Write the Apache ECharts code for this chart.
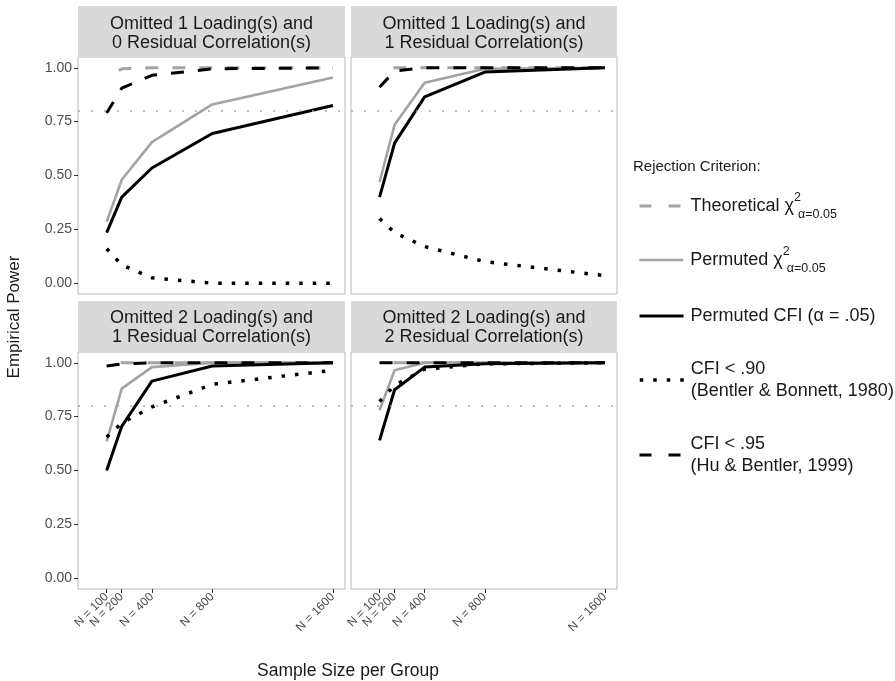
<!DOCTYPE html>
<html>
<head>
<meta charset="utf-8">
<script src="https://cdn.jsdelivr.net/npm/echarts@6/dist/echarts.min.js"></script>
<style>html,body{margin:0;padding:0;background:#fff;}#c{width:895px;height:681px;}</style>
</head>
<body>
<div id="c"></div>
<script>
// ---- data ----
const sampleSizes = [100, 200, 400, 800, 1600];
const yTicks = [0, 0.25, 0.5, 0.75, 1];
const powerReference = 0.8;
const panelTitles = [
  'Omitted 1 Loading(s) and\n0 Residual Correlation(s)',
  'Omitted 1 Loading(s) and\n1 Residual Correlation(s)',
  'Omitted 2 Loading(s) and\n1 Residual Correlation(s)',
  'Omitted 2 Loading(s) and\n2 Residual Correlation(s)'
];
const seriesNames = ['theo', 'permChi', 'permCfi', 'cfi90', 'cfi95'];

// panel 1: 1 loading, 0 residual
const p1Theo    = [0.955, 0.995, 1, 1, 1];
const p1PermChi = [0.285, 0.48, 0.655, 0.83, 0.955];
const p1PermCfi = [0.235, 0.40, 0.535, 0.695, 0.825];
const p1Cfi90   = [0.16, 0.085, 0.025, 0.0, 0.0];
const p1Cfi95   = [0.79, 0.905, 0.965, 0.995, 1];
// panel 2: 1 loading, 1 residual
const p2Theo    = [0.99, 1, 1, 1, 1];
const p2PermChi = [0.47, 0.735, 0.93, 0.995, 1];
const p2PermCfi = [0.40, 0.65, 0.865, 0.98, 1];
const p2Cfi90   = [0.30, 0.235, 0.17, 0.10, 0.035];
const p2Cfi95   = [0.91, 0.985, 1, 1, 1];
// panel 3: 2 loadings, 1 residual
const p3Theo    = [0.995, 1, 1, 1, 1];
const p3PermChi = [0.635, 0.88, 0.98, 1, 1];
const p3PermCfi = [0.50, 0.705, 0.915, 0.985, 1];
const p3Cfi90   = [0.655, 0.72, 0.795, 0.90, 0.965];
const p3Cfi95   = [0.985, 0.995, 1, 1, 1];
// panel 4: 2 loadings, 2 residual
const p4Theo    = [1, 1, 1, 1, 1];
const p4PermChi = [0.78, 0.965, 1, 1, 1];
const p4PermCfi = [0.64, 0.875, 0.98, 0.995, 1];
const p4Cfi90   = [0.82, 0.895, 0.97, 0.995, 1];
const p4Cfi95   = [1, 1, 1, 1, 1];

const panelData = [
  [p1Theo, p1PermChi, p1PermCfi, p1Cfi90, p1Cfi95],
  [p2Theo, p2PermChi, p2PermCfi, p2Cfi90, p2Cfi95],
  [p3Theo, p3PermChi, p3PermCfi, p3Cfi90, p3Cfi95],
  [p4Theo, p4PermChi, p4PermCfi, p4Cfi90, p4Cfi95]
];

// ---- styles / layout ----
const FONT = '"Liberation Sans", Arial, sans-serif';
const GRAY = '#a3a3a3';
const styles = {
  theo:    {color: GRAY, width: 3, type: [13, 14], dashOffset: 13, legendType: [12, 17]},
  permChi: {color: GRAY, width: 2.6, type: 'solid'},
  permCfi: {color: '#000', width: 3, type: 'solid'},
  cfi90:   {color: '#000', width: 3.5, type: [3.5, 10]},
  cfi95:   {color: '#000', width: 3, type: [13, 14], legendType: [12, 17]}
};
const grids = [
  {left: 78, top: 57, width: 267, height: 237},
  {left: 351, top: 57, width: 266, height: 237},
  {left: 78, top: 352, width: 267, height: 237},
  {left: 351, top: 352, width: 266, height: 237}
];
const strips = [
  {x: 78, y: 6, w: 267, h: 51, dy: 2.5},
  {x: 351, y: 6, w: 266, h: 51, dy: 2.5},
  {x: 78, y: 301, w: 267, h: 51, dy: 1},
  {x: 351, y: 301, w: 266, h: 51, dy: 1}
];

// labels split over two axes so close rotated labels are both kept
const mainLabelValues = sampleSizes.filter((_, j) => j !== 1);
const extraLabelValues = [sampleSizes[1]];

const xLabelStyle = {rotate: 45, margin: 6, hideOverlap: false,
  formatter: v => 'N = ' + v, fontSize: 12, color: '#4d4d4d', fontFamily: FONT};

const xAxes = [], yAxes = [], series = [];
grids.forEach((g, i) => {
  const bottom = i >= 2, leftCol = i % 2 === 0;
  xAxes.push({
    type: 'value', gridIndex: i, min: -90, max: 1680, position: 'bottom',
    splitLine: {show: false}, axisLine: {show: false, onZero: false},
    axisTick: {show: bottom, customValues: sampleSizes, length: 4, lineStyle: {color: '#333'}},
    axisLabel: Object.assign({show: bottom, customValues: mainLabelValues}, xLabelStyle)
  });
  yAxes.push({
    type: 'value', gridIndex: i, min: -0.05, max: 1.05,
    splitLine: {show: false}, axisLine: {show: false, onZero: false},
    axisTick: {show: leftCol, customValues: yTicks, length: 4, lineStyle: {color: '#333'}},
    axisLabel: {show: leftCol, customValues: yTicks, margin: 6, hideOverlap: false,
      formatter: v => v.toFixed(2), fontSize: 14, color: '#4d4d4d', fontFamily: FONT}
  });
  seriesNames.forEach((nm, k) => {
    const st = styles[nm];
    const s = {
      name: nm, type: 'line', xAxisIndex: i, yAxisIndex: i,
      symbol: 'none', silent: true, z: 2 + k,
      data: sampleSizes.map((n, j) => [n, panelData[i][k][j]]),
      lineStyle: {color: st.color, width: st.width, type: st.type, dashOffset: st.dashOffset || 0, cap: 'butt'},
      itemStyle: {color: st.color}
    };
    if (k === 0) {
      s.markLine = {silent: true, symbol: 'none', label: {show: false},
        lineStyle: {type: [2, 11], color: '#a8a8a8', width: 1.6},
        data: [{yAxis: powerReference}]};
    }
    series.push(s);
  });
});
[2, 3].forEach(i => {
  xAxes.push({
    type: 'value', gridIndex: i, min: -90, max: 1680, position: 'bottom', offset: 0,
    splitLine: {show: false}, axisLine: {show: false, onZero: false},
    axisTick: {show: false},
    axisLabel: Object.assign({show: true, customValues: extraLabelValues}, xLabelStyle)
  });
});

const rich = {
  t: {fontSize: 18, color: '#1a1a1a', fontFamily: FONT, lineHeight: 22},
  sup: {fontSize: 12.5, color: '#1a1a1a', fontFamily: FONT, verticalAlign: 'top', width: 4, lineHeight: 30},
  sub: {fontSize: 12.5, color: '#1a1a1a', fontFamily: FONT, verticalAlign: 'bottom', lineHeight: 30}
};
const legendLabels = {
  theo: '{t|Theoretical χ}{sup|2}{sub|α=0.05}',
  permChi: '{t|Permuted χ}{sup|2}{sub|α=0.05}',
  permCfi: '{t|Permuted CFI (α = .05)}',
  cfi90: '{t|CFI < .90}\n{t|(Bentler & Bonnett, 1980)}',
  cfi95: '{t|CFI < .95}\n{t|(Hu & Bentler, 1999)}'
};
const legendTops = [191, 245, 307, 360, 435];
const legends = seriesNames.map((nm, k) => ({
  data: [nm], left: 638, top: legendTops[k], orient: 'vertical', padding: 0,
  itemWidth: 44, itemHeight: 14, itemGap: 0, selectedMode: false,
  formatter: n => legendLabels[n],
  textStyle: {rich: rich, fontSize: 18, color: '#1a1a1a', fontFamily: FONT, padding: [0, 0, 0, 2]},
  itemStyle: {opacity: 0},
  lineStyle: {width: styles[nm].width, type: styles[nm].legendType || styles[nm].type, dashOffset: 0}
}));

const graphics = [];
strips.forEach((s, i) => {
  graphics.push({type: 'rect', shape: {x: s.x, y: s.y, width: s.w, height: s.h}, style: {fill: '#d9d9d9'}, silent: true});
  graphics.push({type: 'text', x: s.x + s.w / 2, y: s.y + s.h / 2 + s.dy, silent: true,
    style: {text: panelTitles[i], fill: '#1a1a1a', font: '18px ' + FONT, align: 'center', verticalAlign: 'middle', lineHeight: 19}});
});
graphics.push({type: 'text', x: 14, y: 317, rotation: Math.PI / 2, silent: true,
  style: {text: 'Empirical Power', fill: '#1a1a1a', font: '17px ' + FONT, align: 'center', verticalAlign: 'middle'}});
graphics.push({type: 'text', x: 348, y: 671, silent: true,
  style: {text: 'Sample Size per Group', fill: '#1a1a1a', font: '17.5px ' + FONT, align: 'center', verticalAlign: 'middle'}});
graphics.push({type: 'text', x: 633, y: 167, silent: true,
  style: {text: 'Rejection Criterion:', fill: '#1a1a1a', font: '15px ' + FONT, align: 'left', verticalAlign: 'middle'}});

const chart = echarts.init(document.getElementById('c'), null, {renderer: 'canvas'});
chart.setOption({
  animation: false,
  backgroundColor: '#fff',
  grid: grids.map(g => Object.assign({show: true, borderColor: '#b8b8b8', borderWidth: 1, backgroundColor: '#fff', containLabel: false}, g)),
  xAxis: xAxes,
  yAxis: yAxes,
  legend: legends,
  series: series,
  graphic: graphics
});
</script>
</body>
</html>
